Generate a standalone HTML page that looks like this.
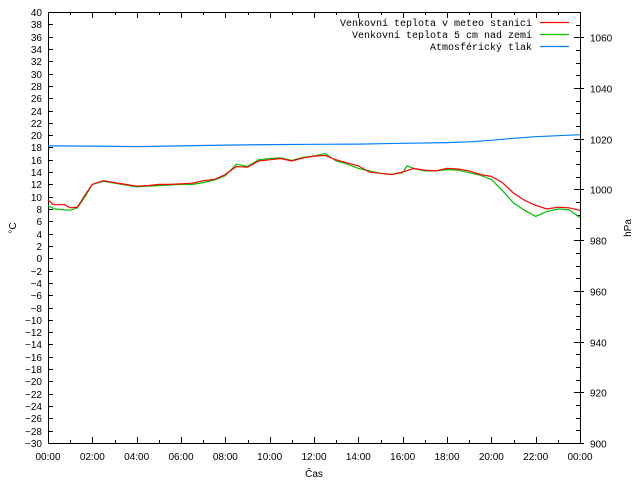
<!DOCTYPE html>
<html><head><meta charset="utf-8"><style>
body{margin:0;background:#fff}
svg{display:block;font-family:"Liberation Sans",sans-serif}
</style></head><body>
<svg id="c" width="640" height="480"></svg>
<script>
const hoursR=[0,0.25,0.75,1,1.33,1.67,2,2.5,3,3.5,4,4.5,5,5.5,6,6.5,7,7.5,8,8.5,9,9.5,10,10.5,11,11.5,12,12.5,13,13.5,14,14.5,15,15.5,16,16.5,17,17.5,18,18.5,19,19.5,20,20.5,21,21.5,22,22.5,23,23.5,24];
const tempStation=[9.5,8.7,8.7,8.2,8.3,10.3,12.0,12.6,12.3,12.0,11.7,11.8,12.0,12.0,12.1,12.2,12.6,12.8,13.6,14.9,14.8,15.8,16.0,16.2,15.8,16.3,16.6,16.7,16.0,15.5,15.0,14.0,13.8,13.6,14.0,14.6,14.3,14.2,14.6,14.5,14.2,13.6,13.3,12.3,10.6,9.4,8.6,8.0,8.3,8.2,7.8];
const hoursG=[0,0.33,1,1.33,1.67,2,2.5,3,3.5,4,4.5,5,5.5,6,6.5,7,7.5,8,8.5,9,9.5,10,10.5,11,11.5,12,12.5,13,13.5,14,14.5,15,15.5,16,16.2,16.5,17,17.5,18,18.5,19,19.5,20,20.5,21,21.5,22,22.5,23,23.5,24];
const tempGround=[8.5,8.0,7.8,8.2,10.0,12.0,12.5,12.2,11.9,11.6,11.7,11.8,11.9,12.0,12.0,12.3,12.7,13.4,15.3,14.9,16.0,16.2,16.3,15.9,16.4,16.6,17.0,15.8,15.3,14.6,14.2,13.8,13.6,13.9,15.0,14.6,14.2,14.2,14.4,14.3,13.9,13.5,12.8,11.0,9.0,7.8,6.8,7.6,8.0,7.9,6.6];
const hoursP=[0,2,4,6,8,10,12,14,16,18,19,20,21,22,23,24];
const pressure=[1017.2,1017.1,1016.9,1017.2,1017.5,1017.7,1017.8,1017.9,1018.2,1018.5,1018.8,1019.4,1020.2,1020.8,1021.2,1021.6];
const yTicks=[];for(let v=-30;v<=40;v+=2)yTicks.push(v);
const pTicks=[900,920,940,960,980,1000,1020,1040,1060];
const xLabels=["00:00","02:00","04:00","06:00","08:00","10:00","12:00","14:00","16:00","18:00","20:00","22:00","00:00"];
const L=48,R=580,T=12,B=443;
const xs=h=>L+h*(R-L)/24;
const ys=t=>B-(t+30)*(B-T)/70;
const yp=p=>B-(p-900)*(B-T)/170;
const svg=document.getElementById('c');const NS='http://www.w3.org/2000/svg';
function mk(tag,attrs,txt){const e=document.createElementNS(NS,tag);for(const k in attrs)e.setAttribute(k,attrs[k]);if(txt!==undefined)e.textContent=txt;svg.appendChild(e);return e;}
let e=mk('rect',{x:L+0.5,y:T+0.5,width:R-L,height:B-T,fill:'none',stroke:'#000','stroke-width':1});


yTicks.forEach(v=>{const y=Math.round(ys(v))+0.5;
 let t=mk('line',{x1:L,x2:L+5,y1:y,y2:y,stroke:'#000'});
 
 
 let l=mk('text',{x:L-6,y:y+3.5,'text-anchor':'end','font-size':10},String(v).replace('-','\u2212'));
 
 });
for(let p=900;p<=1065;p+=5){const y=Math.round(yp(p))+0.5;const major=p%20===0;
 let t=mk('line',{x1:R-(major?6:4),x2:R+(major?4:0),y1:y,y2:y,stroke:'#000'});
 
 }
pTicks.forEach(p=>{const y=Math.round(yp(p))+0.5;
 let l=mk('text',{x:590,y:y+4,'font-size':10},String(p));
 
 });
for(let h=0;h<=24;h++){const x=Math.round(xs(h))+0.5;const major=h%2===0;const len=major?6:3;
 let t=mk('line',{x1:x,x2:x,y1:B-len,y2:B,stroke:'#000'});
 
 
 let t2=mk('line',{x1:x,x2:x,y1:T,y2:T+len,stroke:'#000'});
 
 }
xLabels.forEach((s,i)=>{let l=mk('text',{x:xs(i*2),y:460,'text-anchor':'middle','font-size':10},s);
 
 });
e=mk('text',{x:314,y:477,'text-anchor':'middle','font-size':10},'Čas');


e=mk('text',{x:0,y:0,'text-anchor':'middle','font-size':10,transform:'translate(16,228) rotate(-90)'},'°C');


e=mk('text',{x:0,y:0,'text-anchor':'middle','font-size':10,transform:'translate(631,228) rotate(-90)'},'hPa');


function series(hs,vs,fy,col,name){const d=hs.map((h,i)=>(i?'L':'M')+xs(h).toFixed(1)+','+fy(vs[i]).toFixed(1)).join('');
 let p=mk('path',{d:d,fill:'none',stroke:col,'stroke-width':1.2});
 
 }
series(hoursP,pressure,yp,'#0080ff','pressure-line');
series(hoursG,tempGround,ys,'#00c000','ground-temp-line');
series(hoursR,tempStation,ys,'#ff0000','station-temp-line');
const leg=[['Venkovní teplota v meteo stanici','#ff0000'],['Venkovní teplota 5 cm nad zemí','#00c000'],['Atmosférický tlak','#0080ff']];
leg.forEach((g,i)=>{const y=22+i*12;
 let t=mk('text',{x:532,y:y+4,'text-anchor':'end','font-size':10,'font-family':'Liberation Mono, monospace'},g[0]);
 
 
 let l=mk('line',{x1:540,x2:569,y1:y+0.5,y2:y+0.5,stroke:g[1],'stroke-width':1.2});
 
 });
</script>
</body></html>
